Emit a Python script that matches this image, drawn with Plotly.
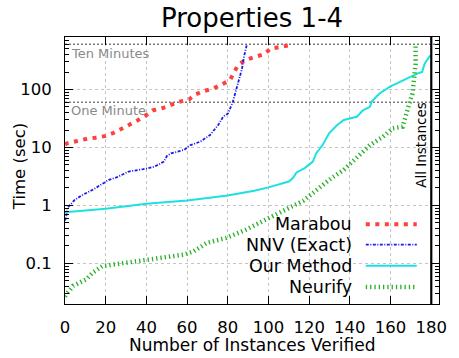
import plotly.graph_objects as go

# ---------------- data ----------------
marabou_x = [0, 1, 6, 11, 15, 20, 24, 28, 32, 36, 40, 43, 48, 52, 56, 61, 64, 68, 73, 77, 81, 83, 85, 89, 93, 98, 101, 106, 110]
marabou_y = [11.2, 11.8, 12.9, 14.2, 14.7, 15.8, 17.9, 21, 24.4, 29.7, 36.2, 43.5, 47.8, 53.7, 61.2, 67.3, 82, 93.5, 104, 122, 144, 193, 265, 327, 359, 409, 506, 540, 577]

nnv_x = [0, 0.5, 1.1, 4.8, 8.8, 13.6, 17.6, 21.6, 25.6, 31.3, 38.5, 44.1, 48.6, 50.1, 52.1, 58.5, 61.7, 66.5, 71.3, 75.3, 77.7, 80.1, 82.5, 84.9, 87.0, 88.1, 89.3]
nnv_y = [0.55, 0.61, 0.90, 1.25, 1.53, 1.86, 2.27, 2.77, 3.07, 3.84, 4.22, 4.68, 5.70, 7.14, 7.9, 9.06, 11.0, 12.6, 16.4, 24.4, 33.8, 38.7, 61.2, 118, 230, 388, 577]

ours_x = [0, 20, 40, 60, 80, 93, 100, 105, 108, 110, 112, 113.8, 117.8, 121.8, 123.4, 126.6, 129.8, 133.8, 137, 143.4, 146.6, 149.9, 150.6, 154.6, 159.5, 164.3, 169.1, 173.1, 175.5, 176.8, 179.5]
ours_y = [0.76, 0.88, 1.07, 1.22, 1.49, 1.79, 2.05, 2.27, 2.48, 2.58, 2.96, 3.7, 4.4, 5.7, 7.9, 11.0, 17.5, 24.4, 29.7, 33.8, 44, 50.2, 61.2, 85.3, 111, 135, 165, 188, 201, 280, 388]

neurify_x = [0, 4, 10.4, 13.6, 18.4, 29.6, 39.3, 48.9, 58.5, 63.3, 69.7, 79.3, 88.9, 98.6, 105, 111.4, 117, 121, 130.6, 137, 143.4, 149.9, 156.3, 161.1, 165.9, 168.3, 170.7, 171.5, 172.3, 172.3]
neurify_y = [0.027, 0.041, 0.053, 0.069, 0.090, 0.102, 0.113, 0.125, 0.142, 0.162, 0.226, 0.275, 0.382, 0.568, 0.74, 0.95, 1.2, 1.55, 2.9, 4.1, 6.5, 11, 15.3, 21.4, 22.8, 44, 85, 144, 280, 560]

series_names = ["Marabou", "NNV (Exact)", "Our Method", "Neurify"]
x_ticks = [0, 20, 40, 60, 80, 100, 120, 140, 160, 180]
y_ticks = [0.1, 1, 10, 100]
y_tick_text = ["0.1", "1", "10", "100"]
y_minor_ticks = [m * d for d in (0.01, 0.1, 1, 10, 100) for m in range(2, 10)]
ten_minutes = 600
one_minute = 60
all_instances = 180

# ---------------- style ----------------
FONT = "DejaVu Sans"
styles = [
    dict(color="#ff4040", width=4, dash="4px,5.5px"),
    dict(color="#1a1aee", width=1.8, dash="3px,1.5px,1px,1.5px"),
    dict(color="#1ee0e0", width=2),
    dict(color="#28b028", width=4.5, dash="1.3px,3px"),
]
data = [(marabou_x, marabou_y), (nnv_x, nnv_y), (ours_x, ours_y), (neurify_x, neurify_y)]

fig = go.Figure()
for (xs, ys), name, st in zip(data, series_names, styles):
    fig.add_trace(go.Scatter(x=xs, y=ys, mode="lines", name=name, line=st, showlegend=False))

# plot area geometry (pixels)
W, H = 459, 358
L, R, T, B = 65, 446.7, 36.7, 304.3
pw, ph = R - L, B - T

def px(x):
    return (x - L) / pw

def py(y):
    return (B - y) / ph

fig.update_layout(
    width=W, height=H,
    margin=dict(l=L, r=W - R, t=T, b=H - B),
    paper_bgcolor="white", plot_bgcolor="white",
    font=dict(family=FONT, color="black", size=16.5),
    title=dict(text="Properties 1-4", x=0.5, xanchor="center", xref="paper",
               y=1 - 17.5 / H, yanchor="middle", font=dict(size=26, family=FONT)),
)

fig.update_xaxes(
    range=[0, 183.8], tickvals=x_ticks, ticks="inside", ticklen=8, tickcolor="black",
    showline=True, linecolor="black", linewidth=1, mirror="allticks",
    showgrid=True, gridcolor="#c4c4c4", griddash="dot", gridwidth=1,
    zeroline=False, tickfont=dict(size=16.5), ticklabelstandoff=8,
)
fig.update_yaxes(
    type="log", range=[-1.70, 2.905], tickvals=y_ticks, ticktext=y_tick_text,
    ticks="inside", ticklen=8, tickcolor="black",
    showline=True, linecolor="black", linewidth=1, mirror="allticks",
    showgrid=True, gridcolor="#c4c4c4", griddash="dot", gridwidth=1,
    zeroline=False, tickfont=dict(size=16.5), ticklabelstandoff=9,
    minor=dict(ticks="inside", ticklen=4, tickcolor="black", tickvals=y_minor_ticks, showgrid=False),
)

# reference lines
for val in (ten_minutes, one_minute):
    fig.add_shape(type="line", xref="paper", yref="y", x0=0, x1=1, y0=val, y1=val,
                  line=dict(color="#7a7a7a", width=1.5, dash="2px,2px"), layer="below")
fig.add_shape(type="line", xref="x", yref="paper", x0=all_instances, x1=all_instances, y0=0, y1=1,
              line=dict(color="black", width=2.2))

ann = []
ann.append(dict(text="Ten Minutes", x=px(69), y=py(53), xanchor="left", yanchor="middle",
                font=dict(size=13, color="#8a8a8a")))
ann.append(dict(text="One Minute", x=px(69), y=py(110), xanchor="left", yanchor="middle",
                font=dict(size=13, color="#8a8a8a")))
ann.append(dict(text="All Instances", x=px(428), y=py(145), xanchor="center", yanchor="middle",
                textangle=-90, font=dict(size=13.5, color="black")))
ann.append(dict(text="Number of Instances Verified", x=0.5, y=py(345), xanchor="center", yanchor="middle",
                font=dict(size=17)))
ann.append(dict(text="Time (sec)", x=px(18.5), y=py(166.7), xanchor="center", yanchor="middle",
                textangle=-90, font=dict(size=16.5)))

# legend (text on left, sample on right)
rows = [224.3, 244.7, 266.0, 287.3]
for name, st, ry in zip(series_names, styles, rows):
    ann.append(dict(text=name, x=px(360), y=py(ry), xanchor="right", yanchor="middle",
                    font=dict(size=17.5)))
    fig.add_shape(type="line", xref="paper", yref="paper", x0=px(372), x1=px(424),
                  y0=py(ry), y1=py(ry), line=st)

for a in ann:
    a.update(xref="paper", yref="paper", showarrow=False)
fig.update_layout(annotations=ann)

fig.write_html("out.html")
